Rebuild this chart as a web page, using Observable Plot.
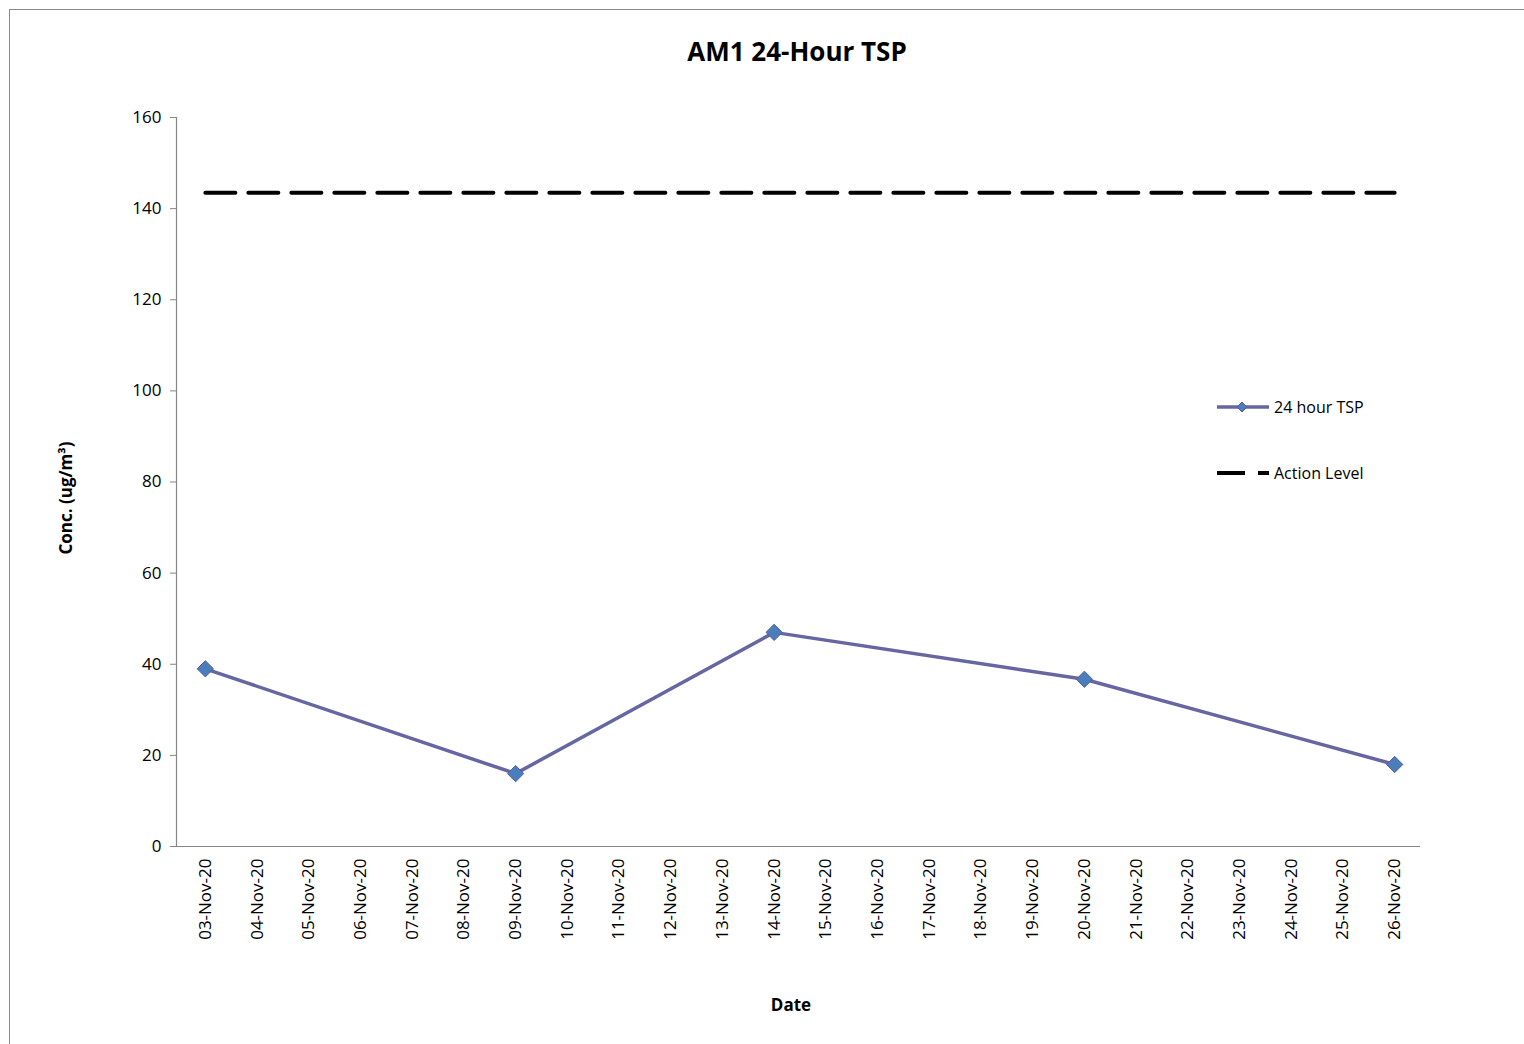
<!DOCTYPE html>
<html>
<head>
<meta charset="utf-8">
<script src="https://cdn.jsdelivr.net/npm/d3@7"></script>
<script src="https://cdn.jsdelivr.net/npm/@observablehq/plot@0.6"></script>
<style>
  html, body { margin: 0; padding: 0; background: #fff; overflow: hidden; }
  #wrap { position: relative; width: 1524px; height: 1044px; font-family: "Open Sans", sans-serif; }
  #border { position: absolute; left: 9px; top: 9px; width: 1530px; height: 1100px; border: 1.5px solid #8a8a8a; box-sizing: border-box; }
  #title { position: absolute; left: 547px; width: 500px; top: 33px; text-align: center; font-size: 26px; font-weight: 700; color: #000; }
  #chart { position: absolute; left: 0; top: 90px; }
  .leg { position: absolute; left: 1216px; display: flex; align-items: center; font-size: 16px; color: #000; }
  .leg svg { margin-right: 4px; }
</style>
</head>
<body>
<div id="wrap">
  <div id="border"></div>
  <div id="title">AM1 24-Hour TSP</div>
  <div id="chart"></div>
  <div class="leg" style="top:396px">
    <svg width="54" height="22"><line x1="1" y1="11" x2="53" y2="11" stroke="#6666a3" stroke-width="3.5"/><path d="M26,6 L31,11 L26,16 L21,11 Z" fill="#4a7ebb" stroke="#5b5b9b" stroke-width="1"/></svg>
    <span>24 hour TSP</span>
  </div>
  <div class="leg" style="top:462px">
    <svg width="54" height="22"><line x1="1" y1="11" x2="53" y2="11" stroke="#000" stroke-width="4" stroke-dasharray="28,13"/></svg>
    <span>Action Level</span>
  </div>
</div>
<script>
const dates = ["03-Nov-20","04-Nov-20","05-Nov-20","06-Nov-20","07-Nov-20","08-Nov-20","09-Nov-20","10-Nov-20","11-Nov-20","12-Nov-20","13-Nov-20","14-Nov-20","15-Nov-20","16-Nov-20","17-Nov-20","18-Nov-20","19-Nov-20","20-Nov-20","21-Nov-20","22-Nov-20","23-Nov-20","24-Nov-20","25-Nov-20","26-Nov-20"];
const tspDates = ["03-Nov-20","09-Nov-20","14-Nov-20","20-Nov-20","26-Nov-20"];
const tspValues = [39, 16, 47, 36.7, 18];
const actionLevel = 143.5;
const yTicks = [0, 20, 40, 60, 80, 100, 120, 140, 160];

const tsp = tspDates.map((d, i) => ({date: d, value: tspValues[i]}));
const action = dates.map(d => ({date: d, value: actionLevel}));

const squareDiamond = {
  draw(ctx, size) {
    const r = Math.sqrt(size / 2);
    ctx.moveTo(0, -r); ctx.lineTo(r, 0); ctx.lineTo(0, r); ctx.lineTo(-r, 0); ctx.closePath();
  }
};

const chart = Plot.plot({
  width: 1524,
  height: 954,
  marginLeft: 176,
  marginRight: 105,
  marginTop: 27,
  marginBottom: 198,
  style: { fontFamily: "Open Sans, sans-serif", fontSize: "15px", color: "#000", background: "transparent" },
  x: { type: "point", domain: dates, padding: 0.5, round: false, range: [179, 1420] },
  y: { domain: [0, 160] },
  marks: [
    Plot.frame({ anchor: "left", stroke: "#868686", strokeWidth: 1.2 }),
    Plot.frame({ anchor: "bottom", stroke: "#868686", strokeWidth: 1.2 }),
    Plot.axisY({ ticks: yTicks, tickSize: 6, tickPadding: 9, stroke: "#868686", fontSize: 17, label: null }),
    Plot.axisX({ tickSize: 0, tickRotate: -90, tickPadding: 12, fontSize: 17, label: null }),
    Plot.text(["Conc. (ug/m³)"], { frameAnchor: "left", textAnchor: "middle", lineAnchor: "middle", dx: -110, dy: 16, rotate: -90, fontWeight: "bold", fontSize: 17 }),
    Plot.text(["Date"], { frameAnchor: "bottom", dx: -7, dy: 164, fontWeight: "bold", fontSize: 17 }),
    Plot.line(action, { x: "date", y: "value", stroke: "#000", strokeWidth: 4, strokeDasharray: "30,13" }),
    Plot.line(tsp, { x: "date", y: "value", stroke: "#6666a3", strokeWidth: 3.5 }),
    Plot.dot(tsp, { x: "date", y: "value", symbol: squareDiamond, r: 6.5, fill: "#4a7ebb", stroke: "#5b5b9b", strokeWidth: 1 })
  ]
});
document.getElementById("chart").appendChild(chart);
</script>
</body>
</html>
